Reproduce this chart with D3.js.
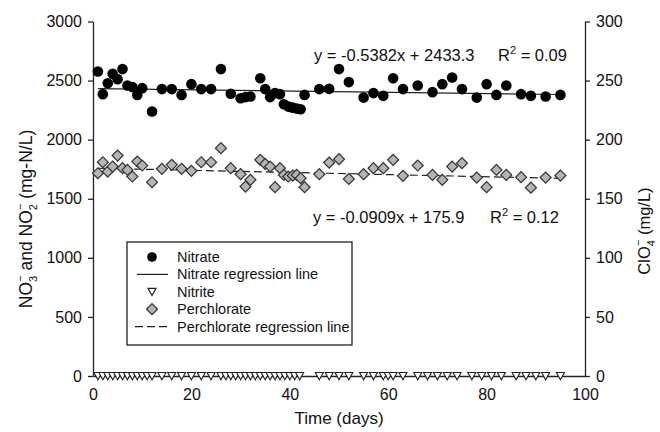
<!DOCTYPE html>
<html>
<head>
<meta charset="utf-8">
<script src="https://cdn.jsdelivr.net/npm/d3@7"></script>
<style>
    body { margin: 0; background: #fff; }
    svg text { font-family: "Liberation Sans", Arial, sans-serif; fill: #111; }
</style>
</head>
<body>
<svg class="chart" width="660" height="432"></svg>
<script>
// measured days (shared by nitrate and perchlorate)
var days = [1, 2, 3, 4, 5, 6, 7, 8, 9, 10, 12, 14, 16, 18, 20, 22, 24, 26, 28, 30, 31, 32, 34, 35, 36, 37, 38,
    38.8, 39.7, 40.6, 41.4, 42.2, 43, 46, 48, 50, 52, 55, 57, 59, 61, 63, 66, 69, 71, 73, 75, 78, 80, 82, 84, 87, 89, 92, 95];
// NO3- (mg-N/L)
var nitrate = [2577, 2385, 2478, 2557, 2512, 2597, 2458, 2445, 2379, 2436, 2238, 2428, 2428, 2379, 2470, 2428, 2428, 2597,
    2388, 2351, 2360, 2365, 2520, 2428, 2360, 2394, 2385, 2300, 2280, 2271, 2263, 2258, 2379, 2428, 2430, 2597, 2487,
    2356, 2394, 2371, 2520, 2428, 2458, 2402, 2470, 2526, 2428, 2356, 2470, 2379, 2458, 2385, 2371, 2365, 2379];
// ClO4- (mg/L)
var perchlorate = [171.6, 180.9, 173.0, 177.2, 186.5, 175.9, 174.4, 168.8, 181.5, 178.1, 164.0, 175.3, 178.7, 175.3, 173.6,
    180.9, 180.9, 192.8, 175.9, 170.8, 160.3, 166.0, 182.9, 179.5, 177.2, 159.8, 175.9, 170.2, 168.8, 169.6, 170.2, 167.4,
    159.8, 170.8, 180.6, 183.5, 166.8, 170.8, 175.9, 175.9, 182.9, 169.4, 178.1, 170.2, 166.0, 177.2, 180.1, 167.9, 159.8,
    174.4, 170.2, 168.3, 159.4, 167.9, 169.6];
// NO2- sampled days (all at 0)
var nitriteDays = [1, 2, 3, 4, 5, 6, 7, 8, 9, 10, 11, 12, 14, 16, 18, 20, 22, 24, 26, 27, 28, 29, 30, 31, 32, 33, 34, 35,
    36, 37, 38, 39, 40, 41, 42, 46, 48, 50, 52, 55, 57, 59, 60, 61, 63, 66, 68, 70, 72, 74, 77, 79, 81, 83, 86, 88, 90, 92, 95];
var nitrite = [0, 0, 0, 0, 0, 0, 0, 0, 0, 0, 0, 0, 0, 0, 0, 0, 0, 0, 0, 0, 0, 0, 0, 0, 0, 0, 0, 0,
    0, 0, 0, 0, 0, 0, 0, 0, 0, 0, 0, 0, 0, 0, 0, 0, 0, 0, 0, 0, 0, 0, 0, 0, 0, 0, 0, 0, 0, 0, 0];
// regression fits [slope, intercept]
var nitrateFit = [-0.5382, 2433.3];
var perchlorateFit = [-0.0909, 175.9];
var xTicks = [0, 20, 40, 60, 80, 100];
var leftTicks = [0, 500, 1000, 1500, 2000, 2500, 3000];
var rightTicks = [0, 50, 100, 150, 200, 250, 300];
var legendLabels = ['Nitrate', 'Nitrate regression line', 'Nitrite', 'Perchlorate', 'Perchlorate regression line'];

(function() {
    var p = {};
        p.left = 93;
        p.right = 585;
        p.top = 21.5;
        p.bottom = 376;
        p.grey = '#b4b4b4';
        p.dark = '#222';

    var svg = d3.select('.chart');

    var x = d3.scaleLinear().domain([0, 100]).range([p.left, p.right]);
    var yL = d3.scaleLinear().domain([0, 3000]).range([p.bottom, p.top]);
    var yR = d3.scaleLinear().domain([0, 300]).range([p.bottom, p.top]);

    //-----  Axes  -----//
    svg.append('g')
        .attr('transform', 'translate(' + p.left + ',0)')
        .call(d3.axisLeft(yL).tickValues(leftTicks).tickFormat(d3.format('d'))
            .tickSizeInner(5).tickSizeOuter(0).tickPadding(6))
        .call(styleAxis);
    svg.append('g')
        .attr('transform', 'translate(' + p.right + ',0)')
        .call(d3.axisRight(yR).tickValues(rightTicks).tickFormat(d3.format('d'))
            .tickSizeInner(5).tickSizeOuter(0).tickPadding(6))
        .call(styleAxis);
    svg.append('g')
        .attr('transform', 'translate(0,' + p.bottom + ')')
        .call(d3.axisBottom(x).tickValues(xTicks).tickFormat(d3.format('d'))
            .tickSizeInner(0).tickSizeOuter(0).tickPadding(13))
        .call(styleAxis);

    function styleAxis(g) {
        g.select('.domain').attr('stroke', p.dark).attr('stroke-width', 1.3);
        g.selectAll('.tick line').attr('stroke', p.dark).attr('stroke-width', 1.3);
        g.selectAll('.tick text')
            .attr('font-size', 16)
            .attr('font-family', '"Liberation Sans", Arial, sans-serif')
            .attr('fill', '#111');
    }

    //-----  Axis titles  -----//
    svg.append('text')
        .attr('x', (p.left + p.right) / 2)
        .attr('y', 424)
        .attr('text-anchor', 'middle')
        .attr('font-size', 17)
        .text('Time (days)');

    var lt = svg.append('text')
        .attr('transform', 'translate(32,' + 219 + ') rotate(-90)')
        .attr('text-anchor', 'middle')
        .attr('font-size', 17.5);
    lt.append('tspan').text('NO');
    lt.append('tspan').text('3').attr('font-size', 11).attr('dy', 5);
    lt.append('tspan').text('\u2212').attr('font-size', 11).attr('dx', -6).attr('dy', -13);
    lt.append('tspan').text(' and NO').attr('dy', 8);
    lt.append('tspan').text('2').attr('font-size', 11).attr('dy', 5);
    lt.append('tspan').text('\u2212').attr('font-size', 11).attr('dx', -6).attr('dy', -13);
    lt.append('tspan').text(' (mg-N/L)').attr('dy', 8);

    var rt = svg.append('text')
        .attr('transform', 'translate(650,' + 231 + ') rotate(-90)')
        .attr('text-anchor', 'middle')
        .attr('font-size', 16.5);
    rt.append('tspan').text('ClO');
    rt.append('tspan').text('4').attr('font-size', 11).attr('dy', 5);
    rt.append('tspan').text('\u2212').attr('font-size', 11).attr('dx', -6).attr('dy', -13);
    rt.append('tspan').text(' (mg/L)').attr('dy', 8);

    //-----  Regression lines  -----//
    var x0 = d3.min(days), x1 = d3.max(days);
    svg.append('line')
        .attr('x1', x(x0)).attr('x2', x(x1))
        .attr('y1', yL(nitrateFit[0] * x0 + nitrateFit[1]))
        .attr('y2', yL(nitrateFit[0] * x1 + nitrateFit[1]))
        .attr('stroke', p.dark).attr('stroke-width', 1.2);
    svg.append('line')
        .attr('x1', x(x0)).attr('x2', x(x1))
        .attr('y1', yR(perchlorateFit[0] * x0 + perchlorateFit[1]))
        .attr('y2', yR(perchlorateFit[0] * x1 + perchlorateFit[1]))
        .attr('stroke', p.dark).attr('stroke-width', 1.2)
        .attr('stroke-dasharray', '8,4');

    //-----  Symbols  -----//
    var diamond = d3.symbol().type(d3.symbolSquare).size(60);
    var tri = 'M-4,-3.5L4,-3.5L0,3.8Z';

    svg.append('g').selectAll('circle')
        .data(days)
        .enter().append('circle')
            .attr('cx', function(d) { return x(d); })
            .attr('cy', function(d, i) { return yL(nitrate[i]); })
            .attr('r', 5.3)
            .attr('fill', '#000');

    svg.append('g').selectAll('path')
        .data(days)
        .enter().append('path')
            .attr('d', diamond)
            .attr('transform', function(d, i) { return 'translate(' + x(d) + ',' + yR(perchlorate[i]) + ') rotate(45)'; })
            .attr('fill', p.grey)
            .attr('stroke', '#333')
            .attr('stroke-width', 1.2);

    svg.append('g').selectAll('path')
        .data(nitriteDays)
        .enter().append('path')
            .attr('d', tri)
            .attr('transform', function(d, i) { return 'translate(' + x(d) + ',' + yL(nitrite[i]) + ')'; })
            .attr('fill', '#fff')
            .attr('stroke', '#222')
            .attr('stroke-width', 1.1);

    //-----  Equations  -----//
    function equation(xx, yy, txt, r2) {
        var t = svg.append('text').attr('x', xx).attr('y', yy).attr('font-size', 16.5);
        t.append('tspan').text(txt);
        var r = svg.append('text').attr('x', xx + (r2.dx)).attr('y', yy).attr('font-size', 16.5);
        r.append('tspan').text('R');
        r.append('tspan').text('2').attr('font-size', 11).attr('dy', -7);
        r.append('tspan').text(' = ' + r2.v).attr('dy', 7);
    }
    equation(314, 61, 'y = -0.5382x + 2433.3', {dx: 184, v: '0.09'});
    equation(313, 223, 'y = -0.0909x + 175.9', {dx: 177, v: '0.12'});

    //-----  Legend  -----//
    var lg = svg.append('g').attr('transform', 'translate(127,242)');
    lg.append('rect')
        .attr('width', 225).attr('height', 103)
        .attr('fill', '#fff').attr('stroke', p.dark).attr('stroke-width', 1.3);
    var rowY = function(n) { return 15 + n * 17.4; };
    for (var n = 0; n < legendLabels.length; n++) {
        lg.append('text')
            .attr('x', 50).attr('y', rowY(n) + 5)
            .attr('font-size', 14.5)
            .text(legendLabels[n]);
    }
    lg.append('circle').attr('cx', 25).attr('cy', rowY(0)).attr('r', 4.8).attr('fill', '#000');
    lg.append('line').attr('x1', 10).attr('x2', 41).attr('y1', rowY(1)).attr('y2', rowY(1))
        .attr('stroke', p.dark).attr('stroke-width', 1.2);
    lg.append('path').attr('d', tri).attr('transform', 'translate(25,' + rowY(2) + ')')
        .attr('fill', '#fff').attr('stroke', '#222').attr('stroke-width', 1.2);
    lg.append('path').attr('d', diamond).attr('transform', 'translate(25,' + rowY(3) + ') rotate(45)')
        .attr('fill', p.grey).attr('stroke', '#333').attr('stroke-width', 1.2);
    lg.append('line').attr('x1', 8).attr('x2', 42).attr('y1', rowY(4)).attr('y2', rowY(4))
        .attr('stroke', p.dark).attr('stroke-width', 1.2).attr('stroke-dasharray', '8,4');
})();
</script>
</body>
</html>
